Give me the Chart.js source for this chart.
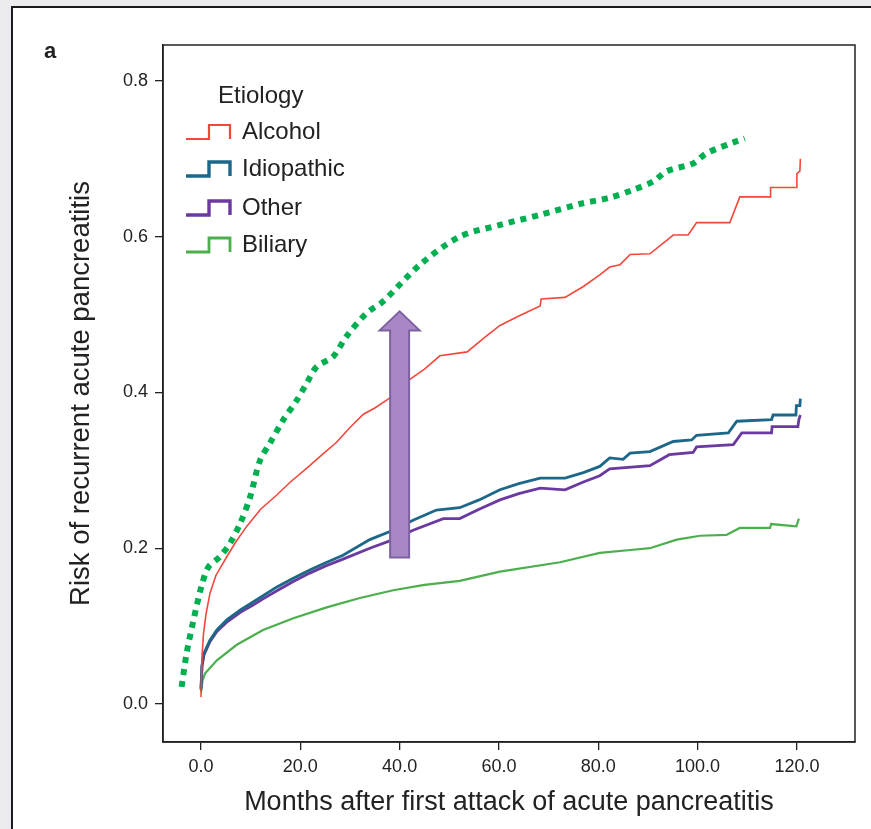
<!DOCTYPE html>
<html>
<head>
<meta charset="utf-8">
<script src="https://cdn.jsdelivr.net/npm/chart.js@4/dist/chart.umd.min.js"></script>
<style>
  html, body { margin: 0; padding: 0; background: #ebeaef; width: 871px; height: 829px; overflow: hidden; }
  #panel { position: absolute; left: 11px; top: 6px; width: 900px; height: 900px; background: #fff;
           border-left: 2px solid #1a1a1a; border-top: 2px solid #1a1a1a; }
  #c { position: absolute; left: 0; top: 0; }
</style>
</head>
<body>
<div id="panel"></div>
<canvas id="c" width="871" height="829"></canvas>
<script>
// ---- data ----
const xTicks = [0, 20, 40, 60, 80, 100, 120];
const yTicks = [0.0, 0.2, 0.4, 0.6, 0.8];
const legendTitle = 'Etiology';
const legendLabels = ['Alcohol', 'Idiopathic', 'Other', 'Biliary'];

const alcoholMonths = [0, 0.2, 0.5, 1, 1.8, 3, 5.2, 7, 9.2, 12, 15.2, 18, 21.9, 24, 27.3, 30, 32.7, 35, 37.4, 39.5, 41.4, 45, 48.1, 53.6, 57, 60.2, 64, 68.3, 68.5, 73.3, 77, 80.3, 82.3, 84.4, 86.4, 90.4, 95.1, 98.1, 99.8, 106.5, 108.5, 114.6, 114.7, 119.9, 120.0, 120.6, 120.7];
const alcoholRisk   = [0.009, 0.06, 0.09, 0.115, 0.142, 0.165, 0.189, 0.208, 0.228, 0.25, 0.268, 0.285, 0.306, 0.318, 0.336, 0.355, 0.372, 0.38, 0.39, 0.4, 0.414, 0.43, 0.447, 0.452, 0.47, 0.486, 0.498, 0.511, 0.52, 0.522, 0.536, 0.551, 0.561, 0.564, 0.577, 0.578, 0.602, 0.602, 0.618, 0.618, 0.651, 0.651, 0.663, 0.663, 0.681, 0.684, 0.70];

const idioMonths = [0, 0.2, 0.6, 1.8, 3.2, 5.2, 8, 10.5, 12.5, 15.2, 18.5, 21.9, 25, 28.6, 34, 38.7, 42.7, 47.4, 52.1, 56, 60.2, 64, 68.3, 73.3, 77, 80.3, 82.3, 85, 86.4, 90.4, 95.1, 98.8, 99.8, 106.2, 107.9, 114.9, 115.2, 119.8, 119.9, 120.6, 120.7];
const idioRisk   = [0.018, 0.05, 0.065, 0.082, 0.095, 0.108, 0.121, 0.131, 0.139, 0.15, 0.161, 0.172, 0.181, 0.191, 0.211, 0.223, 0.236, 0.249, 0.252, 0.262, 0.275, 0.283, 0.29, 0.29, 0.297, 0.305, 0.316, 0.314, 0.322, 0.324, 0.337, 0.339, 0.345, 0.348, 0.363, 0.365, 0.371, 0.371, 0.383, 0.383, 0.392];

const otherMonths = [0, 0.2, 0.6, 1.8, 3.2, 5.2, 8, 10.5, 12.5, 15.2, 18.5, 21.9, 25, 28.6, 34, 38.7, 42.7, 48.8, 52.1, 56, 60.2, 64, 68.3, 73.3, 77, 80.3, 82.3, 90.4, 94.3, 99.1, 99.8, 107.2, 108.9, 114.9, 115, 120.2, 120.4, 120.7];
const otherRisk   = [0.02, 0.048, 0.063, 0.08, 0.093, 0.105, 0.118, 0.127, 0.135, 0.145, 0.157, 0.168, 0.177, 0.186, 0.2, 0.211, 0.223, 0.238, 0.238, 0.25, 0.262, 0.27, 0.277, 0.275, 0.285, 0.293, 0.302, 0.306, 0.32, 0.323, 0.33, 0.333, 0.348, 0.348, 0.356, 0.356, 0.365, 0.371];

const biliaryMonths = [0, 0.3, 0.8, 3.2, 7.2, 12.5, 18.6, 25.3, 32, 38.7, 45, 52.1, 60.2, 72.3, 80.3, 87, 90.4, 95.8, 100.5, 105.8, 108.5, 114.6, 114.8, 119.9, 120.4];
const biliaryRisk   = [0.015, 0.03, 0.039, 0.056, 0.076, 0.095, 0.11, 0.124, 0.136, 0.146, 0.153, 0.158, 0.17, 0.182, 0.194, 0.198, 0.2, 0.211, 0.216, 0.217, 0.226, 0.226, 0.231, 0.228, 0.238];

// hand-drawn dotted overlay
const dottedMonths = [-3.9, -2.9, -1.5, 0.1, 1.5, 3.8, 5.8, 7.9, 9.9, 11.9, 13.9, 16.6, 19.3, 21.3, 23.3, 26.6, 29.3, 33.4, 36.7, 44.1, 52.1, 60.2, 68.3, 76.3, 82.3, 87, 91.1, 93.8, 99.1, 101.8, 107.2, 109.5];
const dottedRisk   = [0.022, 0.065, 0.108, 0.151, 0.176, 0.189, 0.206, 0.232, 0.266, 0.313, 0.335, 0.365, 0.39, 0.412, 0.433, 0.446, 0.472, 0.502, 0.517, 0.564, 0.6, 0.615, 0.628, 0.642, 0.65, 0.66, 0.671, 0.684, 0.694, 0.707, 0.721, 0.726];

// arrow overlay (month, risk from -> to)
const arrowMonth = [40];
const arrowRisk = [0.188, 0.504];

// ---- build ----
const pts = (xs, ys) => xs.map((x, i) => ({x, y: ys[i]}));
const colors = ['#f2483c', '#1d6788', '#6b3aa0', '#4cae4c'];
const widths = [1.6, 2.8, 2.8, 2.2];

Chart.defaults.font.family = '"Liberation Sans", Arial, sans-serif';
Chart.defaults.color = '#222';

const boxPlugin = {
  id: 'box',
  afterDraw(chart) {
    const {ctx, chartArea: a} = chart;
    ctx.save();
    ctx.strokeStyle = '#222';
    ctx.lineWidth = 1.5;
    ctx.strokeRect(a.left, a.top, a.right - a.left, a.bottom - a.top);
    ctx.fillStyle = '#222';
    ctx.font = 'bold 22px "Liberation Sans", Arial, sans-serif';
    ctx.textBaseline = 'middle';
    ctx.textAlign = 'left';
    ctx.fillText('a', 44, 52);
    ctx.restore();
  }
};

const arrowPlugin = {
  id: 'arrow',
  afterDatasetsDraw(chart) {
    const {ctx, scales: {x, y}} = chart;
    const cx = x.getPixelForValue(arrowMonth[0]);
    const yb = y.getPixelForValue(arrowRisk[0]);
    const yt = y.getPixelForValue(arrowRisk[1]);
    const sw = 9.5, hw = 20, hh = 19;
    ctx.save();
    ctx.beginPath();
    ctx.moveTo(cx - sw, yb);
    ctx.lineTo(cx - sw, yt + hh);
    ctx.lineTo(cx - hw, yt + hh);
    ctx.lineTo(cx, yt);
    ctx.lineTo(cx + hw, yt + hh);
    ctx.lineTo(cx + sw, yt + hh);
    ctx.lineTo(cx + sw, yb);
    ctx.closePath();
    ctx.fillStyle = '#a987c7';
    ctx.fill();
    ctx.strokeStyle = '#7d62a0';
    ctx.lineWidth = 2;
    ctx.stroke();
    ctx.restore();
  }
};

const legendPlugin = {
  id: 'customLegend',
  afterDatasetsDraw(chart) {
    const {ctx} = chart;
    ctx.save();
    ctx.fillStyle = '#222';
    ctx.font = '24px "Liberation Sans", Arial, sans-serif';
    ctx.textBaseline = 'middle';
    ctx.textAlign = 'left';
    ctx.fillText(legendTitle, 218, 96);
    const ys = [132, 169, 208, 245];
    legendLabels.forEach((lab, i) => {
      const yc = ys[i];
      ctx.strokeStyle = colors[i];
      ctx.lineWidth = widths[i] + 0.6;
      ctx.beginPath();
      ctx.moveTo(186, yc + 7);
      ctx.lineTo(209, yc + 7);
      ctx.lineTo(209, yc - 7);
      ctx.lineTo(230, yc - 7);
      ctx.lineTo(230, yc + 7);
      ctx.stroke();
      ctx.fillStyle = '#222';
      ctx.fillText(lab, 242, yc);
    });
    ctx.restore();
  }
};

const mk = (label, xs, ys, i) => ({
  label, data: pts(xs, ys), borderColor: colors[i], borderWidth: widths[i],
  pointRadius: 0, tension: 0, fill: false
});

new Chart(document.getElementById('c'), {
  type: 'line',
  data: {
    datasets: [
      {label: 'overlay', data: pts(dottedMonths, dottedRisk), borderColor: '#00b050', borderWidth: 6,
       borderDash: [6, 6], borderCapStyle: 'butt', pointRadius: 0, tension: 0.3, fill: false},
      mk(legendLabels[0], alcoholMonths, alcoholRisk, 0),
      mk(legendLabels[1], idioMonths, idioRisk, 1),
      mk(legendLabels[2], otherMonths, otherRisk, 2),
      mk(legendLabels[3], biliaryMonths, biliaryRisk, 3)
    ]
  },
  options: {
    responsive: false,
    animation: false,
    devicePixelRatio: 1,
    layout: {padding: {top: 45, right: 16, left: 0, bottom: 0}},
    plugins: {legend: {display: false}, tooltip: {enabled: false}},
    scales: {
      x: {
        type: 'linear', min: -7.65, max: 131.7,
        afterFit: s => { s.height = 87; },
        afterBuildTicks: s => { s.ticks = xTicks.map(v => ({value: v})); },
        ticks: {font: {size: 18}, color: '#222', padding: 6, maxRotation: 0,
                callback: v => Number(v).toFixed(1)},
        grid: {drawOnChartArea: false, drawTicks: true, tickLength: 8, color: '#222', lineWidth: 1.3},
        border: {display: true, color: '#222', width: 1.5},
        title: {display: true, text: 'Months after first attack of acute pancreatitis',
                font: {size: 27}, color: '#222', padding: {top: 0, bottom: 10}}
      },
      y: {
        type: 'linear', min: -0.0488, max: 0.846,
        afterFit: s => { s.width = 163; },
        afterBuildTicks: s => { s.ticks = yTicks.map(v => ({value: v})); },
        ticks: {font: {size: 18}, color: '#222', padding: 7,
                callback: v => Number(v).toFixed(1)},
        grid: {drawOnChartArea: false, drawTicks: true, tickLength: 8, color: '#222', lineWidth: 1.3},
        border: {display: true, color: '#222', width: 1.5},
        title: {display: true, text: 'Risk of recurrent acute pancreatitis',
                font: {size: 27.5}, color: '#222', padding: {top: 65, bottom: 0}}
      }
    }
  },
  plugins: [boxPlugin, arrowPlugin, legendPlugin]
});
</script>
</body>
</html>
